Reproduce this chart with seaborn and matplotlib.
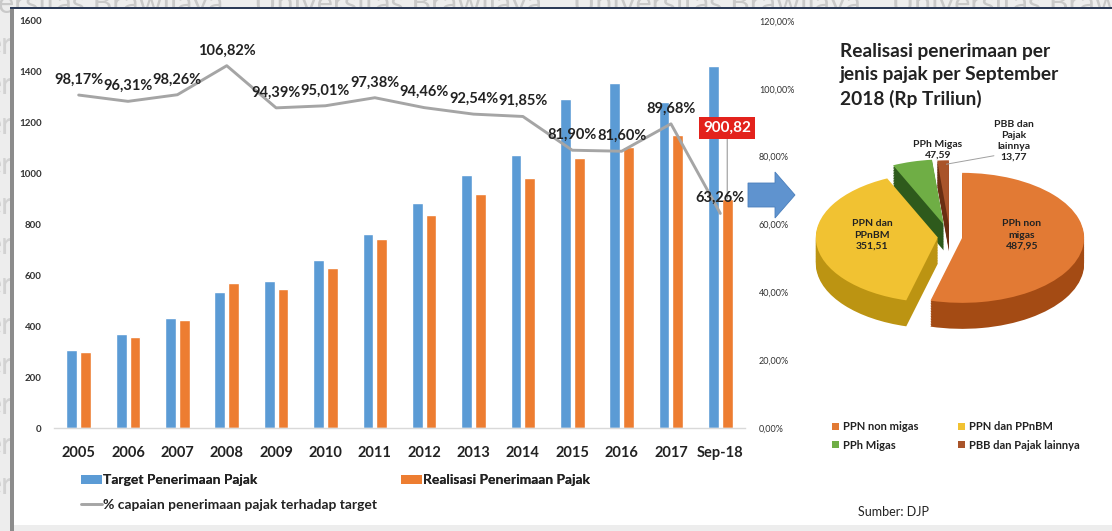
import numpy as np
import pandas as pd
import matplotlib
matplotlib.use("Agg")
import matplotlib.pyplot as plt
import seaborn as sns
from matplotlib.patches import Rectangle, Polygon, Patch
from matplotlib.lines import Line2D

# ---------------- data ----------------
years = ["2005", "2006", "2007", "2008", "2009", "2010", "2011", "2012",
         "2013", "2014", "2015", "2016", "2017", "Sep-18"]
target = [304.8, 370.0, 431.0, 534.0, 577.0, 661.0, 764.0, 885.0,
          995.0, 1072.0, 1294.0, 1355.0, 1283.0, 1424.0]
realisasi = [299.2, 356.3, 423.5, 570.4, 544.6, 628.0, 744.0, 836.0,
             920.8, 984.6, 1059.8, 1105.7, 1150.6, 900.82]
capaian = [98.17, 96.31, 98.26, 106.82, 94.39, 95.01, 97.38, 94.46,
           92.54, 91.85, 81.90, 81.60, 89.68, 63.26]
bar_series = ["Target Penerimaan Pajak", "Realisasi Penerimaan Pajak"]
line_series = "% capaian penerimaan pajak terhadap target"
left_ticks = [0, 200, 400, 600, 800, 1000, 1200, 1400, 1600]
right_ticks = [0, 20, 40, 60, 80, 100, 120]

pie_names = ["PPh non\nmigas", "PPN dan\nPPnBM", "PPh Migas", "PBB dan\nPajak\nlainnya"]
pie_values = [487.95, 351.51, 47.59, 13.77]
pie_legend = ["PPN non migas", "PPN dan PPnBM", "PPh Migas", "PBB dan Pajak lainnya"]
pie_title = "Realisasi penerimaan per\njenis pajak per September\n2018 (Rp Triliun)"
source = "Sumber: DJP"

# ---------------- style ----------------
sns.set_theme(style="white")
plt.rcParams["font.family"] = ["Lato", "DejaVu Sans"]

W, H = 1112, 531
fig = plt.figure(figsize=(W / 100, H / 100), dpi=100)
fig.patch.set_facecolor("#EDEDED")


def fx(x):
    return x / W


def fy(y):
    return 1 - y / H


BLUE = "#5B9BD5"
ORANGE = "#ED7D31"
GRAY = "#A5A5A5"
TXT = "#222222"

# ---------------- frame & watermark ----------------
wm = "ersitas Brawijaya    Universitas Brawijaya    Universitas Brawijaya    Universitas Brawijaya"
fig.text(fx(-2), fy(13), wm, fontsize=22, color="#C9C9C9", va="baseline", ha="left", zorder=-3)
for yy in range(45, 525, 40):
    fig.text(fx(13), fy(yy), "er", fontsize=22, color="#D2D2D2", va="center", ha="right", zorder=-3)
fig.patches.append(Rectangle((fx(12), fy(525)), fx(1112) - fx(12), fy(8) - fy(525),
                             transform=fig.transFigure, facecolor="white", edgecolor="none", zorder=-2))
fig.patches.append(Rectangle((fx(10), fy(531)), fx(4), fy(8) - fy(531),
                             transform=fig.transFigure, facecolor="#8C8C8C", edgecolor="none", zorder=-1))
fig.patches.append(Rectangle((fx(10), fy(9)), fx(1102), fy(7) - fy(9),
                             transform=fig.transFigure, facecolor="#2B3A57", edgecolor="none", zorder=-1))

# ---------------- bar chart ----------------
ax = fig.add_axes([fx(54), fy(428), fx(691), fy(21) - fy(428)])
ax.set_facecolor("none")
n = len(years)
df = pd.DataFrame({
    "Tahun": years * 2,
    "Nilai": target + realisasi,
    "Seri": [bar_series[0]] * n + [bar_series[1]] * n,
})
sns.barplot(data=df, x="Tahun", y="Nilai", hue="Seri", palette=[BLUE, ORANGE],
            width=0.56, gap=0.22, saturation=1, ax=ax, legend=False)
ax.set_xlim(-0.5, n - 0.5)
ax.set_ylim(0, 1600)
ax.set_yticks(left_ticks)
ax.set_yticklabels([str(t) for t in left_ticks], fontsize=7, fontweight="bold", color="#333333")
ax.set_xlabel("")
ax.set_ylabel("")
ax.tick_params(axis="x", length=0, pad=13, labelsize=10.5, labelcolor=TXT)
ax.tick_params(axis="y", length=0, pad=9)
for lab in ax.get_xticklabels():
    lab.set_fontweight("bold")
for s in ["top", "left", "right"]:
    ax.spines[s].set_visible(False)
ax.spines["bottom"].set_color("#D9D9D9")
ax.spines["bottom"].set_linewidth(1)

# ---------------- line (secondary axis) ----------------
ax2 = ax.twinx()
ax2.set_facecolor("none")
sns.lineplot(x=years, y=capaian, ax=ax2, color=GRAY, linewidth=2.1, sort=False)
ax2.set_ylim(0, 120)
ax2.set_xlim(-0.5, n - 0.5)
ax2.set_yticks(right_ticks)
ax2.set_yticklabels([f"{t:.2f}%".replace(".", ",") for t in right_ticks],
                    fontsize=6.5, color="#333333")
ax2.tick_params(axis="y", length=0, pad=10)
ax2.set_ylabel("")
for s in ax2.spines.values():
    s.set_visible(False)

for i, v in enumerate(capaian):
    ax2.annotate(f"{v:.2f}%".replace(".", ","), xy=(i, v), xycoords=ax2.transData,
                 xytext=(0, 6), textcoords="offset points", ha="center", va="bottom",
                 fontsize=10.5, fontweight="bold", color=TXT, zorder=5)

# callout for last realisation bar
last_bar = ax.containers[1][-1]
bx = last_bar.get_x() + last_bar.get_width() / 2
ax.annotate(f"{realisasi[-1]:.2f}".replace(".", ","), xy=(bx, realisasi[-1]), xycoords=ax.transData,
            xytext=(bx, 1180), textcoords=ax.transData, ha="center", va="center",
            fontsize=11, fontweight="bold", color="white", zorder=6,
            bbox=dict(boxstyle="square,pad=0.25", facecolor="#E3221C", edgecolor="none"),
            arrowprops=dict(arrowstyle="-", color="#9A9A9A", lw=0.8, shrinkA=0, shrinkB=0))

# legends
h_t = Patch(facecolor=BLUE, edgecolor="none")
h_r = Patch(facecolor=ORANGE, edgecolor="none")
h_l = Line2D([], [], color=GRAY, lw=2.1)
leg1 = fig.legend([h_t, h_r], bar_series, loc="center left", bbox_to_anchor=(fx(81), fy(480)),
                  ncol=2, frameon=False, handlelength=1.5, handleheight=0.6,
                  handletextpad=0.05, columnspacing=10.4, borderpad=0, borderaxespad=0,
                  prop={"weight": "bold", "size": 10})
for t in leg1.get_texts():
    t.set_color(TXT)
leg2 = fig.legend([h_l], [line_series], loc="center left", bbox_to_anchor=(fx(81), fy(505)),
                  frameon=False, handlelength=1.5, handletextpad=0.05, borderpad=0, borderaxespad=0,
                  prop={"weight": "bold", "size": 10})
for t in leg2.get_texts():
    t.set_color(TXT)
fig.add_artist(leg1)

# ---------------- arrow between charts ----------------
arrow_pts = [(748, 183), (775, 183), (775, 172), (795, 195), (775, 218), (775, 207), (748, 207)]
fig.patches.append(Polygon([(fx(x), fy(y)) for x, y in arrow_pts], closed=True,
                           transform=fig.transFigure, facecolor="#5F93CF", edgecolor="#4A7EBB",
                           lw=0.6, zorder=3))

# ---------------- pie chart ----------------
cx, cy, rx, ry = 950, 237, 122, 65
xl, xr, yb, yt = -1.3, 1.3, -1.8, 1.3
axp = fig.add_axes([fx(cx + xl * rx), fy(cy - yb * ry), (xr - xl) * rx / W, (yt - yb) * ry / H])
top_cols = ["#E27A34", "#F1C232", "#6FAE45", "#A9542A"]
side_cols = ["#A44B14", "#BC9412", "#2E5A1C", "#6A2E12"]
explode = [0.10, 0.10, 0.20, 0.18]
depth = 0.40
nl = 16
for k in range(nl, 0, -1):
    axp.pie(pie_values, colors=side_cols, startangle=90, counterclock=False, explode=explode,
            center=(0, -depth * k / nl), wedgeprops=dict(linewidth=0))
axp.pie(pie_values, colors=top_cols, startangle=90, counterclock=False, explode=explode,
        wedgeprops=dict(linewidth=0))
axp.set_aspect("auto")
axp.set_xlim(xl, xr)
axp.set_ylim(yb, yt)
axp.axis("off")

lab_pos = [(0.59, 0.03), (-0.64, 0.03), (-0.10, 1.34), (0.52, 1.48)]
for name, val, (px, py) in zip(pie_names, pie_values, lab_pos):
    axp.text(px, py, f"{name}\n{val:.2f}".replace(".", ","), ha="center", va="center",
             fontsize=7.5, fontweight="bold", color=TXT, linespacing=1.3)
axp.plot([0.36, -0.03], [1.25, 1.12], color="#A0A0A0", lw=0.7)

fig.text(fx(840), fy(43), pie_title, ha="left", va="top", fontsize=13.8, fontweight="bold",
         color=TXT, linespacing=1.45)

pie_handles = [Patch(facecolor=c, edgecolor="none") for c in top_cols]
order = [0, 2, 1, 3]
leg3 = fig.legend([pie_handles[i] for i in order], [pie_legend[i] for i in order],
                  loc="center left", bbox_to_anchor=(fx(832), fy(436)), ncol=2, frameon=False,
                  handlelength=0.65, handleheight=0.65, handletextpad=0.3, columnspacing=3.6,
                  labelspacing=0.65, borderpad=0, borderaxespad=0,
                  prop={"weight": "bold", "size": 8})
for t in leg3.get_texts():
    t.set_color(TXT)

fig.text(fx(858), fy(512), source, ha="left", va="center", fontsize=9, color=TXT)

fig.savefig("out.png", dpi=100)
